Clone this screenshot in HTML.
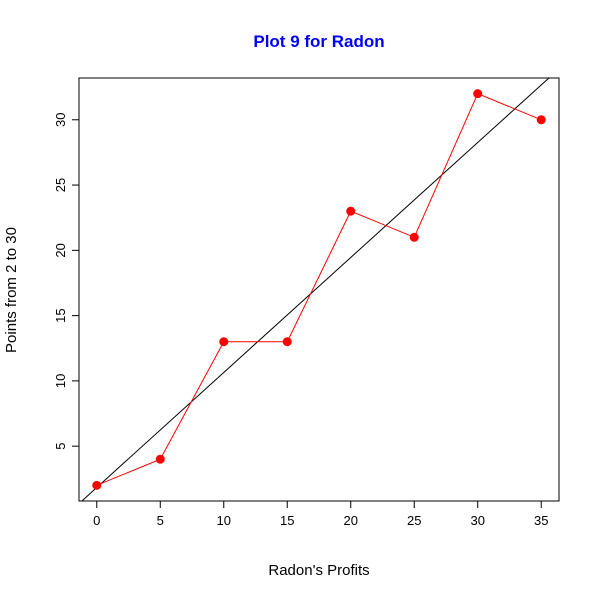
<!DOCTYPE html>
<html><head><meta charset="utf-8"><style>
body{margin:0;background:#fff}
text{font-family:"Liberation Sans",sans-serif}
</style></head><body>
<svg id="chart" width="600" height="600" xmlns="http://www.w3.org/2000/svg">
<text x="319" y="47" text-anchor="middle" font-size="17" font-weight="bold" fill="#0000ff">Plot 9 for Radon</text>
<text x="319" y="575" text-anchor="middle" font-size="15">Radon's Profits</text>
<text transform="translate(16,290) rotate(-90)" text-anchor="middle" font-size="15">Points from 2 to 30</text>
<defs><clipPath id="pc"><rect x="79" y="78" width="480" height="423"/></clipPath></defs>
<g id="xaxis"></g>
<g id="yaxis"></g>
<g id="marks" clip-path="url(#pc)"></g>
<rect x="79" y="78" width="480" height="423" fill="none" stroke="#000"/>
</svg>
<script>
const xValues=[0,5,10,15,20,25,30,35];
const yValues=[2,4,13,13,23,21,32,30];
const xTicks=[0,5,10,15,20,25,30,35];
const yTicks=[5,10,15,20,25,30];
const NS="http://www.w3.org/2000/svg";
const xmin=-1.4,xmax=36.4,ymin=0.8,ymax=33.2;
const L=79,R=559,T=78,B=501;
function sx(v){return L+(v-xmin)/(xmax-xmin)*(R-L);}
function sy(v){return B-(v-ymin)/(ymax-ymin)*(B-T);}
function mk(tag,attrs,parent){const e=document.createElementNS(NS,tag);for(const k in attrs)e.setAttribute(k,attrs[k]);parent.appendChild(e);return e;}
const xa=document.getElementById('xaxis'),ya=document.getElementById('yaxis'),m=document.getElementById('marks');
mk('line',{x1:sx(xTicks[0]),x2:sx(xTicks[xTicks.length-1]),y1:B,y2:B,stroke:'#000'},xa);
xTicks.forEach(t=>{
  const l=mk('line',{x1:sx(t),x2:sx(t),y1:B,y2:B+7,stroke:'#000'},xa);
  
  
  const tx=mk('text',{x:sx(t),y:B+24,'text-anchor':'middle','font-size':13},xa);
  tx.textContent=t;
  
  
});
mk('line',{x1:L,x2:L,y1:sy(yTicks[0]),y2:sy(yTicks[yTicks.length-1]),stroke:'#000'},ya);
yTicks.forEach(t=>{
  const l=mk('line',{x1:L-7,x2:L,y1:sy(t),y2:sy(t),stroke:'#000'},ya);
  
  
  const tx=mk('text',{transform:`translate(${L-14},${sy(t)}) rotate(-90)`,'text-anchor':'middle','font-size':13},ya);
  tx.textContent=t;
  
  
});
// least-squares fit line
const n=xValues.length;
const mx=xValues.reduce((a,b)=>a+b,0)/n, my=yValues.reduce((a,b)=>a+b,0)/n;
let sxy=0,sxx=0;
xValues.forEach((x,i)=>{sxy+=(x-mx)*(yValues[i]-my);sxx+=(x-mx)*(x-mx);});
const slope=sxy/sxx, icpt=my-slope*mx;
const ref=mk('line',{x1:sx(-5),y1:sy(icpt+slope*-5),x2:sx(45),y2:sy(icpt+slope*45),stroke:'#000'},m);


const pts=xValues.map((x,i)=>sx(x)+','+sy(yValues[i])).join(' ');
const pl=mk('polyline',{points:pts,fill:'none',stroke:'#ff0000'},m);


xValues.forEach((x,i)=>{
  const c=mk('circle',{cx:sx(x),cy:sy(yValues[i]),r:4.5,fill:'#ff0000'},m);
  
  
});
</script>
</body></html>
